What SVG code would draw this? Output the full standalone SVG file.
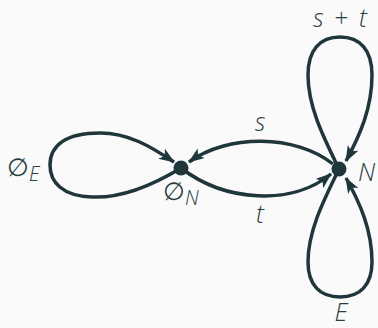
<svg xmlns="http://www.w3.org/2000/svg" width="378" height="328" viewBox="0 0 378 328">
<style>
.e{fill:none;stroke:#1f363a;stroke-width:3.5;marker-end:url(#ah)}
.lbl{font-family:"Open Sans","DejaVu Sans",sans-serif;font-weight:300;font-size:25px;fill:#2a3f44}
.it{font-style:italic}
</style>
<defs>
<marker id="ah" markerUnits="userSpaceOnUse" viewBox="0 0 16 12" refX="15" refY="6" markerWidth="16" markerHeight="12" orient="auto">
<path d="M0,0 L16,6 L0,12 L4,6 z" fill="#1f363a"/>
</marker>
</defs>
<rect width="378" height="328" fill="#fafafa"/>
<g id="edges">
<path class="e" d="M181,168 C145,190 115,198 92,197 C62,196 50,182 50,165 C50,146 65,133 100,133 C128,133 150,146 174,162"/>
<path class="e" d="M339,169 C325,140 308,108 308,75 C308,50 320,37 340,37 C360,37 372,50 372,75 C372,108 360,135 346,161"/>
<path class="e" d="M339,169 C325,198 308,230 308,262 C308,285 320,297 340,297 C360,297 372,285 372,262 C372,230 360,203 346,178"/>
<path class="e" d="M333,164 C295,134 228,134 189,162"/>
<path class="e" d="M181,168 C225,202 292,206 331,174"/>
</g>
<g id="n-emptyN">
<circle cx="181" cy="168" r="7.5" fill="#1f363a"/>
<text class="lbl" x="163" y="200">∅<tspan class="it" font-size="20" dy="5">N</tspan></text>
</g>
<g id="n-N">
<circle cx="339" cy="169" r="7.5" fill="#1f363a"/>
<text class="lbl it" x="358" y="181">N</text>
</g>
<g id="labels">
<text class="lbl" x="7" y="176">∅<tspan class="it" font-size="20" dy="5">E</tspan></text>
<text class="lbl it" x="260" y="131" text-anchor="middle">s</text>
<text class="lbl it" x="260" y="223" text-anchor="middle">t</text>
<text class="lbl" x="340" y="27" text-anchor="middle" word-spacing="4"><tspan class="it">s</tspan> + <tspan class="it">t</tspan></text>
<text class="lbl it" x="341" y="321" text-anchor="middle">E</text>
</g>
</svg>
